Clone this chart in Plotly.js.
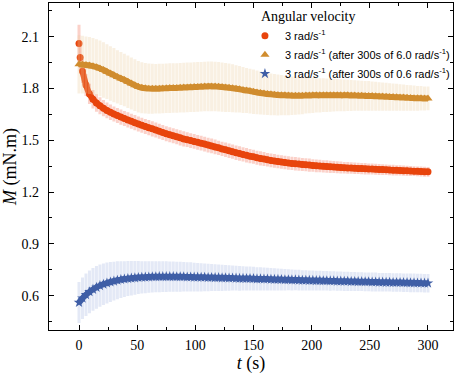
<!DOCTYPE html>
<html>
<head>
<meta charset="utf-8">
<script src="https://cdn.plot.ly/plotly-3.0.1.min.js"></script>
<style>
  html, body { margin: 0; padding: 0; background: #fff; }
  #chart { width: 460px; height: 374px; }
</style>
</head>
<body>
<div id="chart"></div>
<script>
// sampling grid of the measurements (every 3 s)
const tGrid = [];
for (let t = 0; t <= 300; t += 3) tGrid.push(t);

// 3 rad/s-1 (red circles) - has an extra reading at t = 1 s
const redT = [0, 1].concat(tGrid.slice(1));
const redM = [
  2.060, 1.980,
  1.900, 1.820, 1.768, 1.738, 1.716, 1.700, 1.686, 1.673, 1.662, 1.652,
  1.643, 1.634, 1.626, 1.618, 1.610, 1.602, 1.594, 1.587, 1.580, 1.573,
  1.566, 1.559, 1.552, 1.545, 1.538, 1.532, 1.526, 1.520, 1.514, 1.508,
  1.503, 1.498, 1.493, 1.488, 1.483, 1.478, 1.472, 1.467, 1.461, 1.456,
  1.450, 1.445, 1.439, 1.434, 1.428, 1.423, 1.418, 1.413, 1.408, 1.404,
  1.399, 1.395, 1.391, 1.387, 1.383, 1.380, 1.377, 1.374, 1.371, 1.368,
  1.366, 1.364, 1.362, 1.360, 1.358, 1.356, 1.354, 1.352, 1.351, 1.349,
  1.348, 1.346, 1.345, 1.344, 1.342, 1.341, 1.340, 1.339, 1.338, 1.337,
  1.336, 1.335, 1.334, 1.333, 1.332, 1.331, 1.330, 1.329, 1.328, 1.327,
  1.326, 1.325, 1.324, 1.323, 1.322, 1.321, 1.320, 1.319, 1.318, 1.317
];
const redErr = [
  0.100, 0.070,
  0.060, 0.055, 0.050, 0.045, 0.042, 0.040, 0.038, 0.037, 0.036, 0.035,
  0.035, 0.035, 0.035, 0.035, 0.035, 0.035, 0.035, 0.035, 0.035, 0.035,
  0.035, 0.035, 0.035, 0.035, 0.035, 0.035, 0.035, 0.035, 0.035, 0.035,
  0.034, 0.034, 0.034, 0.034, 0.034, 0.034, 0.034, 0.034, 0.034, 0.033,
  0.033, 0.033, 0.033, 0.033, 0.033, 0.033, 0.033, 0.033, 0.033, 0.032,
  0.032, 0.032, 0.032, 0.031, 0.031, 0.031, 0.031, 0.030, 0.030, 0.030,
  0.030, 0.030, 0.030, 0.029, 0.029, 0.029, 0.028, 0.028, 0.028, 0.027,
  0.027, 0.027, 0.026, 0.026, 0.026, 0.025, 0.025, 0.025, 0.025, 0.024,
  0.024, 0.024, 0.023, 0.023, 0.023, 0.023, 0.022, 0.022, 0.022, 0.022,
  0.021, 0.021, 0.021, 0.021, 0.020, 0.020, 0.020, 0.020, 0.020, 0.020
];

// 3 rad/s-1 after 300 s of 6.0 rad/s-1 (gold triangles)
const goldM = [
  1.940, 1.938, 1.936, 1.933, 1.929, 1.923, 1.916, 1.907, 1.897, 1.887,
  1.877, 1.867, 1.858, 1.849, 1.839, 1.829, 1.819, 1.810, 1.804, 1.801,
  1.799, 1.798, 1.798, 1.799, 1.800, 1.801, 1.802, 1.803, 1.803, 1.804,
  1.805, 1.806, 1.807, 1.808, 1.809, 1.810, 1.811, 1.812, 1.812, 1.811,
  1.810, 1.808, 1.806, 1.804, 1.801, 1.798, 1.795, 1.791, 1.788, 1.785,
  1.781, 1.777, 1.774, 1.771, 1.768, 1.766, 1.764, 1.762, 1.761, 1.760,
  1.759, 1.758, 1.758, 1.758, 1.758, 1.759, 1.759, 1.760, 1.760, 1.760,
  1.761, 1.761, 1.761, 1.761, 1.761, 1.760, 1.760, 1.760, 1.759, 1.759,
  1.758, 1.758, 1.757, 1.757, 1.756, 1.755, 1.754, 1.753, 1.752, 1.751,
  1.750, 1.749, 1.748, 1.747, 1.746, 1.745, 1.744, 1.743, 1.743, 1.742,
  1.742
];
const goldErr = [
  0.160, 0.158, 0.157, 0.156, 0.155, 0.154, 0.153, 0.152, 0.150, 0.149,
  0.148, 0.146, 0.145, 0.144, 0.143, 0.142, 0.141, 0.140, 0.139, 0.138,
  0.137, 0.136, 0.135, 0.135, 0.135, 0.135, 0.135, 0.135, 0.135, 0.135,
  0.135, 0.135, 0.135, 0.135, 0.135, 0.135, 0.135, 0.135, 0.135, 0.135,
  0.135, 0.134, 0.133, 0.132, 0.130, 0.128, 0.126, 0.124, 0.122, 0.121,
  0.120, 0.118, 0.116, 0.115, 0.113, 0.112, 0.111, 0.110, 0.108, 0.106,
  0.105, 0.103, 0.101, 0.100, 0.098, 0.096, 0.094, 0.093, 0.091, 0.090,
  0.089, 0.088, 0.087, 0.086, 0.085, 0.084, 0.083, 0.082, 0.081, 0.080,
  0.079, 0.078, 0.077, 0.077, 0.076, 0.075, 0.074, 0.073, 0.072, 0.071,
  0.070, 0.069, 0.068, 0.067, 0.066, 0.065, 0.064, 0.063, 0.062, 0.061,
  0.060
];

// 3 rad/s-1 after 300 s of 0.6 rad/s-1 (blue stars)
const blueM = [
  0.560, 0.585, 0.605, 0.622, 0.636, 0.648, 0.658, 0.666, 0.673, 0.679,
  0.684, 0.689, 0.693, 0.696, 0.699, 0.701, 0.703, 0.705, 0.706, 0.707,
  0.708, 0.709, 0.709, 0.710, 0.710, 0.710, 0.710, 0.710, 0.709, 0.709,
  0.709, 0.708, 0.708, 0.707, 0.707, 0.706, 0.706, 0.705, 0.705, 0.704,
  0.704, 0.703, 0.703, 0.702, 0.702, 0.701, 0.700, 0.700, 0.699, 0.699,
  0.698, 0.697, 0.697, 0.696, 0.696, 0.695, 0.694, 0.694, 0.693, 0.692,
  0.692, 0.691, 0.691, 0.690, 0.689, 0.689, 0.688, 0.688, 0.687, 0.687,
  0.686, 0.686, 0.685, 0.685, 0.684, 0.684, 0.683, 0.683, 0.682, 0.682,
  0.681, 0.681, 0.680, 0.680, 0.679, 0.679, 0.678, 0.678, 0.677, 0.677,
  0.676, 0.676, 0.676, 0.675, 0.675, 0.674, 0.674, 0.673, 0.673, 0.672,
  0.672
];
const blueErr = [
  0.110, 0.112, 0.114, 0.115, 0.115, 0.115, 0.114, 0.112, 0.110, 0.107,
  0.104, 0.101, 0.098, 0.095, 0.093, 0.091, 0.089, 0.087, 0.085, 0.084,
  0.083, 0.082, 0.081, 0.081, 0.080, 0.080, 0.079, 0.079, 0.078, 0.078,
  0.077, 0.076, 0.076, 0.075, 0.074, 0.073, 0.072, 0.071, 0.070, 0.069,
  0.068, 0.067, 0.066, 0.065, 0.064, 0.063, 0.063, 0.062, 0.061, 0.061,
  0.060, 0.059, 0.059, 0.058, 0.057, 0.057, 0.056, 0.055, 0.054, 0.053,
  0.052, 0.052, 0.051, 0.051, 0.050, 0.050, 0.049, 0.049, 0.049, 0.048,
  0.048, 0.048, 0.048, 0.047, 0.047, 0.047, 0.047, 0.047, 0.046, 0.046,
  0.046, 0.046, 0.046, 0.046, 0.046, 0.046, 0.045, 0.045, 0.045, 0.045,
  0.045, 0.045, 0.045, 0.045, 0.045, 0.045, 0.045, 0.045, 0.045, 0.045,
  0.045
];

const seriesNames = [
  '3 rad/s<sup>-1</sup>',
  '3 rad/s<sup>-1</sup> (after 300s of 6.0 rad/s<sup>-1</sup>)',
  '3 rad/s<sup>-1</sup> (after 300s of 0.6 rad/s<sup>-1</sup>)'
];

const serif = 'Liberation Serif';
const sans = 'Liberation Sans';

const red = '#E8440C', gold = '#D08C2E', blue = '#3F5EA6';

// the dense run of overlapping markers reads as a thick band
function bandTrace(x, y, color, width) {
  return {
    x, y, type: 'scatter', mode: 'lines', showlegend: false,
    line: { color, width, shape: 'spline', smoothing: 0.6 }
  };
}

function markerTrace(x, y, err, name, symbol, size, color, errColor) {
  return {
    x, y, name,
    type: 'scatter', mode: 'markers',
    marker: { symbol, size, color, line: { width: 0 } },
    error_y: { type: 'data', array: err, visible: true, color: errColor, thickness: 3, width: 1.5 }
  };
}

const data = [
  markerTrace(redT, redM, redErr, seriesNames[0], 'circle', 7, red, 'rgba(246,140,120,0.4)'),
  bandTrace(redT.slice(2), redM.slice(2), red, 6),
  markerTrace(tGrid, goldM, goldErr, seriesNames[1], 'triangle-up', 8, gold, 'rgba(236,205,160,0.3)'),
  bandTrace(tGrid, goldM, gold, 6),
  markerTrace(tGrid, blueM, blueErr, seriesNames[2], 'star', 8, blue, 'rgba(165,182,224,0.3)'),
  bandTrace(tGrid, blueM, blue, 6)
];

const axisCommon = {
  showline: true, linecolor: '#000', linewidth: 1.3, mirror: 'ticks',
  ticks: 'inside', ticklen: 5, tickwidth: 1, tickcolor: '#000',
  showgrid: false, zeroline: false,
  tickfont: { family: serif, size: 14, color: '#000' }
};

const layout = {
  width: 460, height: 374,
  margin: { l: 49, r: 7, t: 3, b: 44 },
  font: { family: serif, size: 14, color: '#000' },
  paper_bgcolor: '#fff', plot_bgcolor: '#fff',
  showlegend: true,
  xaxis: {
    ...axisCommon,
    range: [-25.8, 321.5], tick0: 0, dtick: 50,
    minor: { dtick: 25, ticks: 'inside', ticklen: 3, tickcolor: '#000' },
    ticklabelstandoff: 2,
    title: { text: '<i>t</i> (s)', font: { family: serif, size: 18, color: '#000' }, standoff: 7 }
  },
  yaxis: {
    ...axisCommon,
    range: [0.401, 2.295], tick0: 0.6, dtick: 0.3, tickformat: '.1f',
    minor: { dtick: 0.15, ticks: 'inside', ticklen: 3, tickcolor: '#000' },
    ticklabelstandoff: 6,
    title: { text: '<i>M</i> (mN.m)', font: { family: serif, size: 18, color: '#000' }, standoff: 4 }
  },
  legend: {
    x: 0.485, y: 1, xanchor: 'left', yanchor: 'top',
    bgcolor: 'rgba(0,0,0,0)', borderwidth: 0,
    font: { family: sans, size: 11, color: '#000' },
    title: { text: '&nbsp;&nbsp;&nbsp;&nbsp;Angular velocity', font: { family: serif, size: 14, color: '#000' } }
  }
};

Plotly.newPlot('chart', data, layout, { staticPlot: true, displayModeBar: false });
</script>
</body>
</html>
